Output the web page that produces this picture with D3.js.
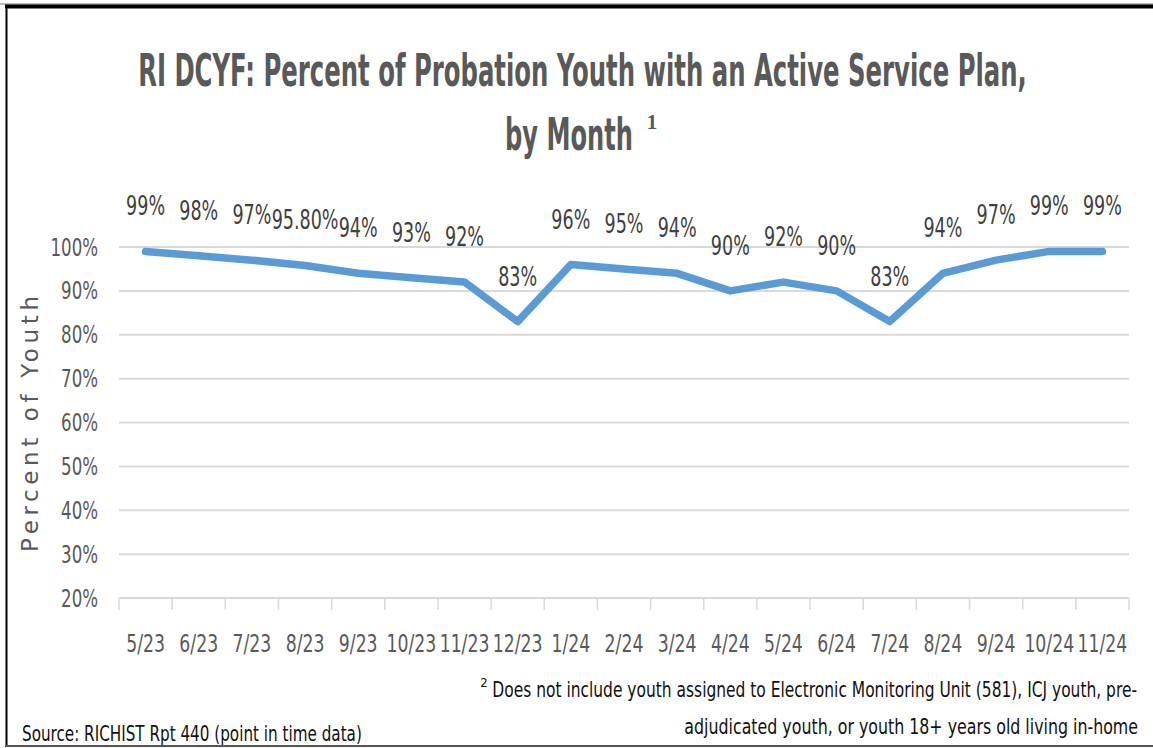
<!DOCTYPE html>
<html><head><meta charset="utf-8">
<script src="https://cdn.jsdelivr.net/npm/d3@7"></script>
<style>html,body{margin:0;padding:0;background:#fff;}svg{display:block;}</style>
</head><body>
<svg id="c" width="1153" height="748"></svg>
<script>
const months = ["5/23","6/23","7/23","8/23","9/23","10/23","11/23","12/23","1/24","2/24","3/24","4/24","5/24","6/24","7/24","8/24","9/24","10/24","11/24"];
const values = [99,98,97,95.8,94,93,92,83,96,95,94,90,92,90,83,94,97,99,99];
const valueLabels = ["99%","98%","97%","95.80%","94%","93%","92%","83%","96%","95%","94%","90%","92%","90%","83%","94%","97%","99%","99%"];
const yTicks = [20,30,40,50,60,70,80,90,100];
const titleLines = ["RI DCYF: Percent of Probation Youth with an Active Service Plan,", "by Month"];
const yTitle = "Percent of Youth";
const footLines = ["Does not include youth assigned to Electronic Monitoring Unit (581), ICJ youth, pre-", "adjudicated youth,  or youth  18+ years old living in-home"];
const sourceText = "Source: RICHIST Rpt 440 (point in time data)";

const svg = d3.select("#c");
const NARROW = "'Liberation Sans Narrow','DejaVu Sans Condensed',sans-serif";
const pL = 119, pR = 1129, pT = 247, pB = 598;

const x = d3.scaleBand().domain(months).range([pL, pR]);
const y = d3.scaleLinear().domain([20, 100]).range([pB, pT]);

// place a text and squeeze it horizontally to a target width
function fitText(str, tx, ty, w, anchor, attrs) {
  const t = svg.append("text").attr("text-anchor", anchor).text(str);
  for (const k in attrs) t.attr(k, attrs[k]);
  const len = t.node().getComputedTextLength();
  const s = Math.min(1.2, w / len);
  t.attr("transform", `translate(${tx},${ty}) scale(${s},1)`);
  return t;
}

// border
svg.append("rect").attr("x",0).attr("y",0).attr("width",1153).attr("height",748).attr("fill","#fff");
svg.append("line").attr("x1",0).attr("x2",1153).attr("y1",4).attr("y2",4).attr("stroke","#777").attr("stroke-width",1);
svg.append("line").attr("x1",5).attr("x2",1153).attr("y1",6.5).attr("y2",6.5).attr("stroke","#000").attr("stroke-width",4);
svg.append("line").attr("x1",6.5).attr("x2",6.5).attr("y1",5).attr("y2",746).attr("stroke","#000").attr("stroke-width",2);

// gridlines
svg.append("g").selectAll("line").data(yTicks.filter(d=>d>20)).join("line")
  .attr("x1",pL).attr("x2",pR).attr("y1",d=>y(d)).attr("y2",d=>y(d))
  .attr("stroke","#d9d9d9").attr("stroke-width",2);

// x axis
const xAxis = d3.axisBottom(x).tickSize(0).tickFormat(d=>d);
const gx = svg.append("g").attr("transform",`translate(0,${pB})`).call(xAxis);
gx.select(".domain").remove();
gx.selectAll("text").remove();
svg.append("line").attr("x1",pL).attr("x2",pR).attr("y1",pB).attr("y2",pB).attr("stroke","#d9d9d9").attr("stroke-width",2);
const bounds = months.map(m=>x(m)).concat([pR]);
svg.append("g").selectAll("line").data(bounds).join("line")
  .attr("x1",d=>d).attr("x2",d=>d).attr("y1",pB).attr("y2",pB+12)
  .attr("stroke","#d9d9d9").attr("stroke-width",1.5);
svg.append("g").selectAll("text").data(months).join("text")
  .attr("transform",d=>`translate(${x(d)+x.bandwidth()/2},652) scale(0.8,1)`)
  .attr("text-anchor","middle").attr("font-family",NARROW).attr("font-size",24)
  .attr("fill","#595959").text(d=>d);

// y axis labels
const yAxis = d3.axisLeft(y).tickValues(yTicks).tickSize(0).tickFormat(d=>d+"%");
const gy = svg.append("g").call(yAxis);
gy.select(".domain").remove();
gy.selectAll("text").remove();
svg.append("g").selectAll("text").data(yTicks).join("text")
  .attr("transform",d=>`translate(98,${y(d)+8.5}) scale(0.77,1)`)
  .attr("text-anchor","end").attr("font-family",NARROW).attr("font-size",24)
  .attr("fill","#595959").text(d=>d+"%");

// y title
svg.append("text").attr("transform","translate(38,424) rotate(-90)")
  .attr("text-anchor","middle").attr("font-family","'DejaVu Sans',sans-serif").attr("font-size",23)
  .attr("fill","#595959").attr("textLength",256).attr("lengthAdjust","spacing").text(yTitle);

// line
const line = d3.line().x((d,i)=>x(months[i])+x.bandwidth()/2).y(d=>y(d));
svg.append("path").datum(values).attr("d",line).attr("fill","none")
  .attr("stroke","#5B9BD5").attr("stroke-width",7.5).attr("stroke-linejoin","round").attr("stroke-linecap","round");

// data labels
svg.append("g").selectAll("text").data(values).join("text")
  .attr("transform",(d,i)=>`translate(${x(months[i])+x.bandwidth()/2},${y(d)-36}) scale(0.75,1)`)
  .attr("text-anchor","middle").attr("font-family",NARROW).attr("font-size",26)
  .attr("fill","#404040").text((d,i)=>valueLabels[i]);

// title
const tAttr = {"font-family":NARROW,"font-weight":"bold","font-size":44,"fill":"#595959"};
fitText(titleLines[0], 582.5, 86, 889, "middle", tAttr);
fitText(titleLines[1], 569, 150, 128, "middle", tAttr);
svg.append("text").attr("x",652).attr("y",129).attr("text-anchor","middle")
  .attr("font-family","'Liberation Serif',serif").attr("font-weight","bold").attr("font-size",21)
  .attr("fill","#595959").text("1");

// footnote
const fAttr = {"font-family":NARROW,"font-size":22,"fill":"#111"};
svg.append("text").attr("x",484).attr("y",687).attr("text-anchor","middle")
  .attr("font-family",NARROW).attr("font-size",13).attr("fill","#111").text("2");
fitText(footLines[0], 1137, 697, 645, "end", fAttr);
fitText(footLines[1], 1138, 734, 454, "end", fAttr);
fitText(sourceText, 22, 741, 340, "start", fAttr);
// bottom border clips the source text
svg.append("rect").attr("x",0).attr("y",745).attr("width",1153).attr("height",3).attr("fill","#fff");
svg.append("line").attr("x1",5).attr("x2",1153).attr("y1",746).attr("y2",746).attr("stroke","#555").attr("stroke-width",2);
</script>
</body></html>
